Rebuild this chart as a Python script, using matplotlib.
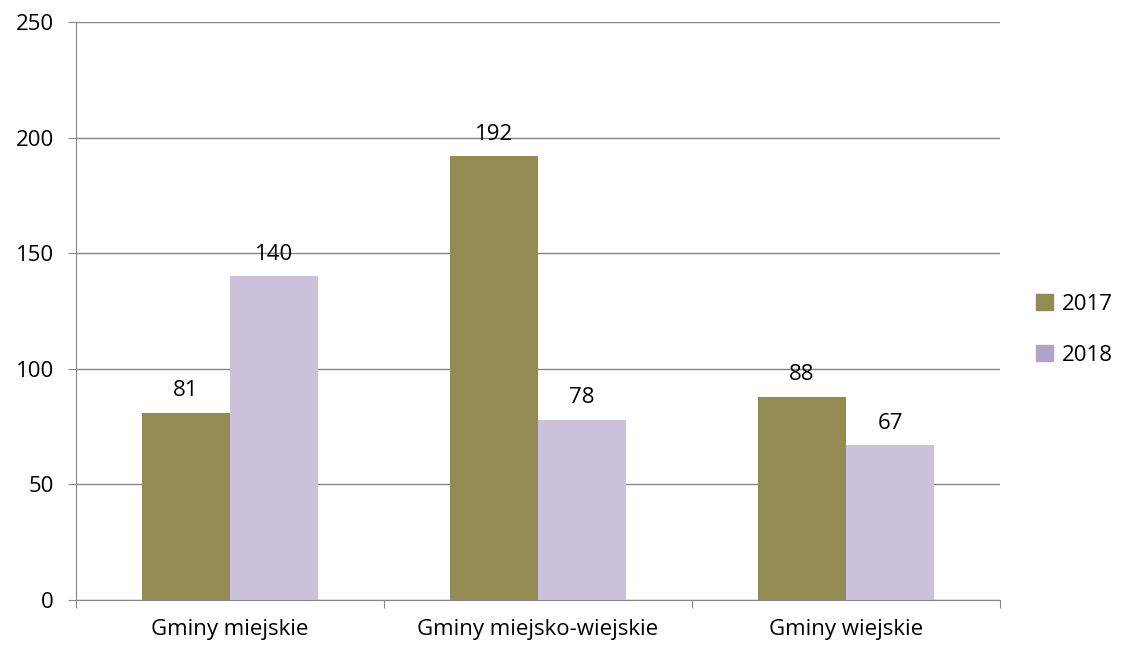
import matplotlib
matplotlib.use("Agg")
import matplotlib.pyplot as plt
from matplotlib.patches import Patch
import numpy as np

categories = ["Gminy miejskie", "Gminy miejsko-wiejskie", "Gminy wiejskie"]
series_names = ["2017", "2018"]
values_2017 = [81, 192, 88]
values_2018 = [140, 78, 67]
yticks = [0, 50, 100, 150, 200, 250]

plt.rcParams['font.family'] = ['Open Sans', 'DejaVu Sans']
FS = 16

fig = plt.figure(figsize=(11.21, 6.45), dpi=100)
ax = fig.add_axes([76/1121, 45/645, (1000-76)/1121, (600-22)/645])

x = np.arange(len(categories))
w = 0.286
c17 = "#948A54"
c18 = "#CCC1DA"
ax.bar(x - w/2, values_2017, w, color=c17, zorder=3)
ax.bar(x + w/2, values_2018, w, color=c18, zorder=3)

for xi, v in zip(x - w/2, values_2017):
    ax.text(xi, v + 5, str(v), ha="center", va="bottom", fontsize=FS)
for xi, v in zip(x + w/2, values_2018):
    ax.text(xi, v + 5, str(v), ha="center", va="bottom", fontsize=FS)

ax.set_xlim(-0.5, len(categories) - 0.5)
ax.set_ylim(0, 250)
ax.set_yticks(yticks)
ax.set_yticklabels([str(t) for t in yticks], fontsize=FS)
ax.yaxis.grid(True, color="#868686", linewidth=1, zorder=0)
ax.set_axisbelow(True)

ax.set_xticks(np.arange(len(categories) + 1) - 0.5)
ax.set_xticklabels([])
ax.set_xticks(x, minor=True)
ax.set_xticklabels(categories, minor=True, fontsize=FS)
ax.tick_params(axis="x", which="minor", length=0, pad=14)
ax.tick_params(axis="x", which="major", length=6, color="#868686")
ax.tick_params(axis="y", length=6, color="#868686", pad=10)

for s in ["top", "right"]:
    ax.spines[s].set_visible(False)
for s in ["left", "bottom"]:
    ax.spines[s].set_color("#868686")

handles = [Patch(color=c17), Patch(color="#B3A2C7")]
fig.legend(handles, series_names, loc="center left", bbox_to_anchor=(1036/1121, 1 - 330/645),
           frameon=False, fontsize=FS, handlelength=0.75, handleheight=0.75,
           labelspacing=1.35, handletextpad=0.4, borderaxespad=0, borderpad=0)

fig.savefig("out.png", dpi=100)
